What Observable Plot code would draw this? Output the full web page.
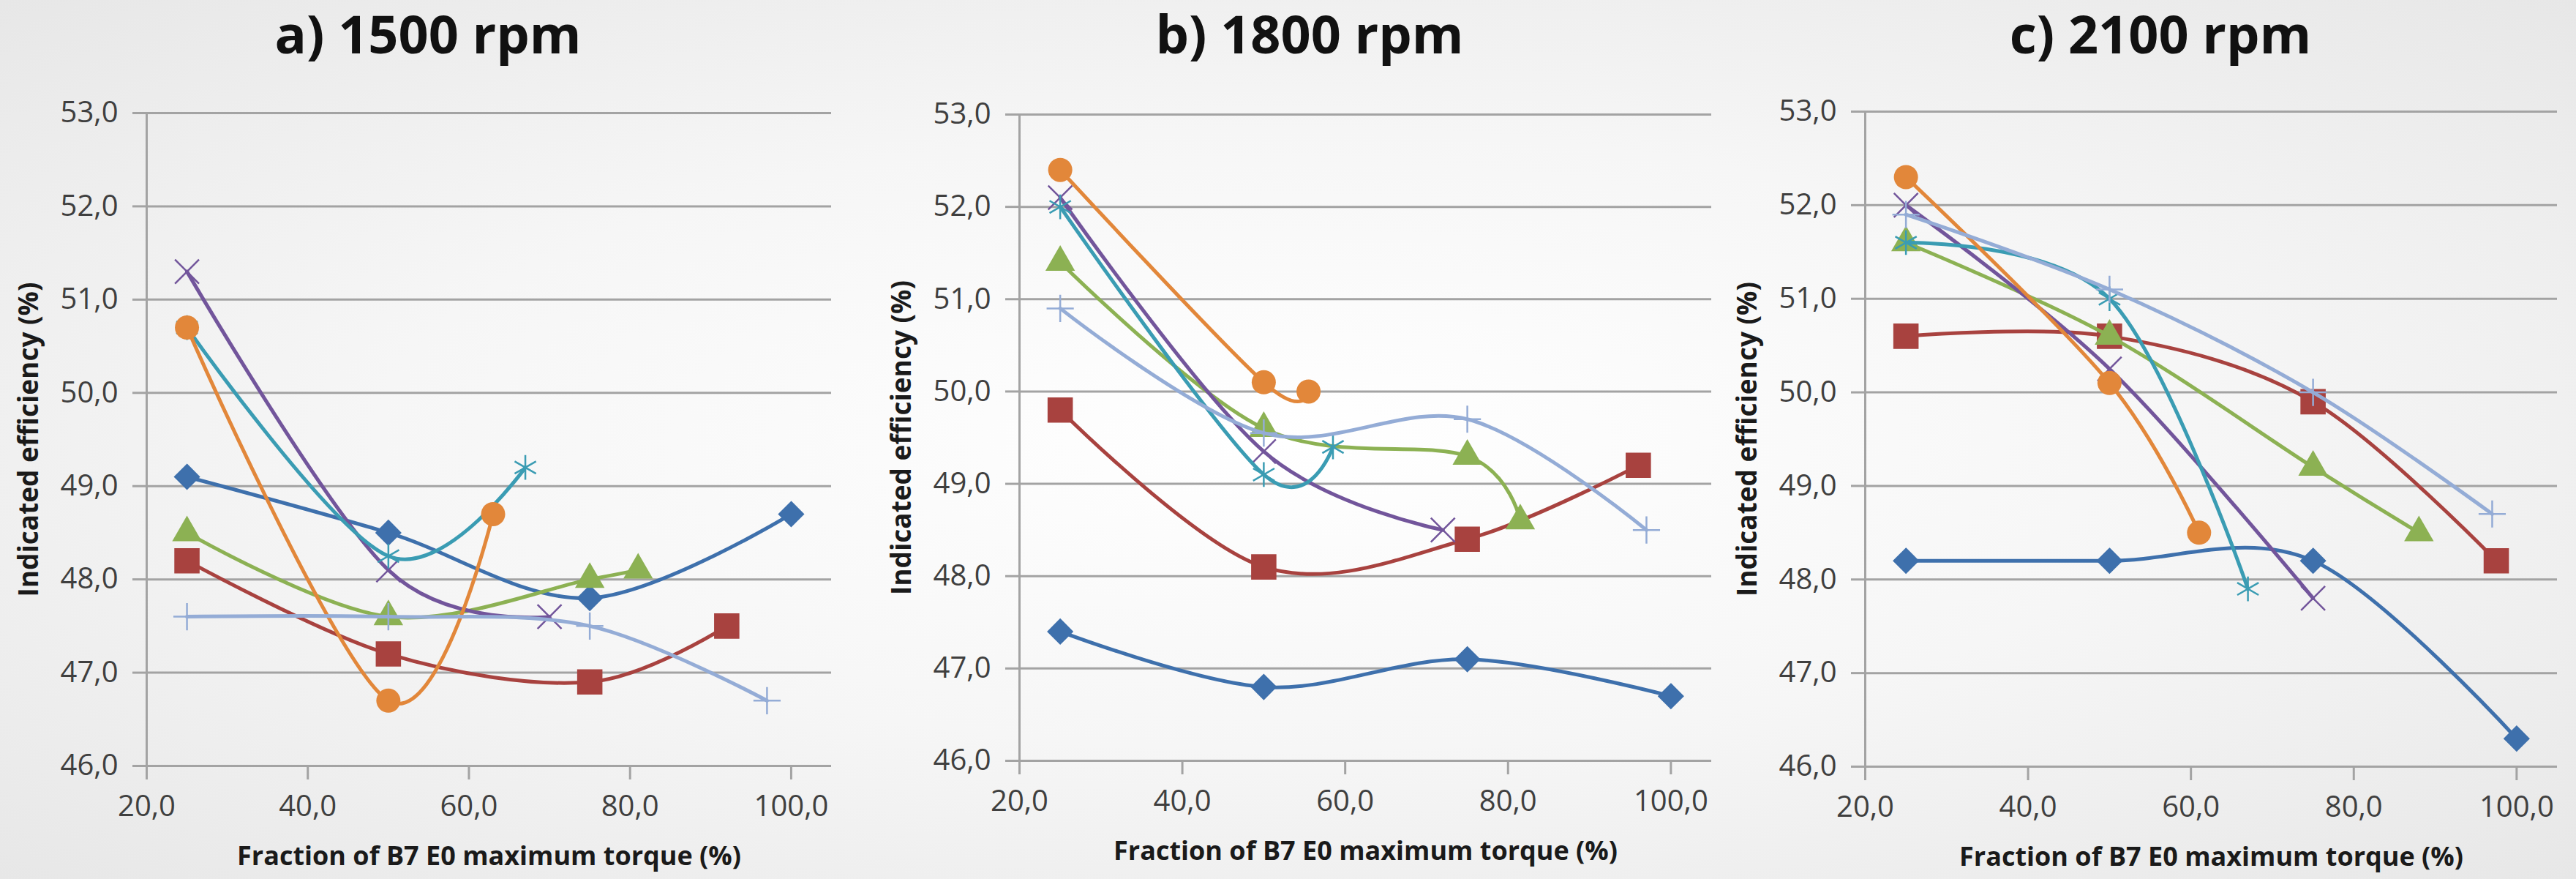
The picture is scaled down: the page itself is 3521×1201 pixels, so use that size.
<!DOCTYPE html>
<html>
<head>
<meta charset="utf-8">
<script src="https://cdn.jsdelivr.net/npm/d3@7"></script>
<script src="https://cdn.jsdelivr.net/npm/@observablehq/plot@0.6"></script>
<style>
  html, body { margin: 0; padding: 0; }
  body {
    width: 3521px; height: 1201px; overflow: hidden; position: relative;
    background: radial-gradient(ellipse at 50% 50%, #ffffff 0%, #f6f6f6 50%, #e7e7e7 100%);
    font-family: "Open Sans", sans-serif;
  }
  .title {
    position: absolute; top: 9px; font-weight: 700; font-size: 72px; line-height: 72px;
    color: #111; transform: translateX(-50%); white-space: nowrap;
  }
  .panel { position: absolute; top: 100px; }
</style>
</head>
<body>
<script>
// ---------- shared axis values ----------
const xTicks = [20, 40, 60, 80, 100];
const yTicks = [46, 47, 48, 49, 50, 51, 52, 53];
const xLabel = "Fraction of B7 E0 maximum torque (%)";
const yLabel = "Indicated efficiency (%)";
const panelTitles = ["a) 1500 rpm", "b) 1800 rpm", "c) 2100 rpm"];

// ---------- series styles (7 fuel blends) ----------
const seriesColors  = ["#3e70ac", "#a8423f", "#8cb153", "#72559b", "#3a9cb3", "#e2873a", "#94acd6"];
const seriesSymbols = ["diamond2", "square", "triangle", "times", "asterisk", "circle", "plus"];

// ---------- a) 1500 rpm ----------
const a1_x = [25, 50, 75, 100], a1_y = [49.1, 48.5, 47.8, 48.7];
const a2_x = [25, 50, 75, 92],  a2_y = [48.2, 47.2, 46.9, 47.5];
const a3_x = [25, 50, 75, 81],  a3_y = [48.5, 47.6, 48.0, 48.1];
const a4_x = [25, 50, 70],      a4_y = [51.3, 48.1, 47.6];
const a5_x = [25, 50, 67],      a5_y = [50.7, 48.25, 49.2];
const a6_x = [25, 50, 63],      a6_y = [50.7, 46.7, 48.7];
const a7_x = [25, 50, 75, 97],  a7_y = [47.6, 47.6, 47.5, 46.7];

// ---------- b) 1800 rpm ----------
const b1_x = [25, 50, 75, 100], b1_y = [47.4, 46.8, 47.1, 46.7];
const b2_x = [25, 50, 75, 96],  b2_y = [49.8, 48.1, 48.4, 49.2];
const b3_x = [25, 50, 75, 81.5], b3_y = [51.4, 49.6, 49.3, 48.6];
const b4_x = [25, 50, 72],      b4_y = [52.1, 49.35, 48.5];
const b5_x = [25, 50, 58.5],    b5_y = [52.0, 49.1, 49.4];
const b6_x = [25, 50, 55.5],    b6_y = [52.4, 50.1, 50.0];
const b7_x = [25, 50, 75, 97],  b7_y = [50.9, 49.55, 49.7, 48.5];

// ---------- c) 2100 rpm ----------
const c1_x = [25, 50, 75, 100], c1_y = [48.2, 48.2, 48.2, 46.3];
const c2_x = [25, 50, 75, 97.5], c2_y = [50.6, 50.6, 49.9, 48.2];
const c3_x = [25, 50, 75, 88],  c3_y = [51.6, 50.6, 49.2, 48.5];
const c4_x = [25, 50, 75],      c4_y = [52.0, 50.25, 47.8];
const c5_x = [25, 50, 67],      c5_y = [51.6, 51.0, 47.9];
const c6_x = [25, 50, 61],      c6_y = [52.3, 50.1, 48.5];
const c7_x = [25, 50, 75, 97],  c7_y = [51.9, 51.1, 50.0, 48.7];

const panelSeries = [
  [[a1_x, a1_y], [a2_x, a2_y], [a3_x, a3_y], [a4_x, a4_y], [a5_x, a5_y], [a6_x, a6_y], [a7_x, a7_y]],
  [[b1_x, b1_y], [b2_x, b2_y], [b3_x, b3_y], [b4_x, b4_y], [b5_x, b5_y], [b6_x, b6_y], [b7_x, b7_y]],
  [[c1_x, c1_y], [c2_x, c2_y], [c3_x, c3_y], [c4_x, c4_y], [c5_x, c5_y], [c6_x, c6_y], [c7_x, c7_y]]
];

// layout per panel (page px)
const layouts = [
  {left: 0,    width: 1166, plotW: 936, mt: 54, mb: 154, titleX: 585},
  {left: 1193, width: 1176, plotW: 946, mt: 56, mb: 161, titleX: 1790},
  {left: 2349, width: 1172, plotW: 946, mt: 52, mb: 153, titleX: 2953}
];

const gridColor = "#a3a3a3";
const fmt = d => d.toFixed(1).replace(".", ",");

function symbolStyle(i, color) {
  const s = seriesSymbols[i];
  const filled = ["diamond2", "square", "triangle", "circle"].includes(s);
  const r = {diamond2: 15, square: 19.5, triangle: 15, circle: 16.5, times: 15, asterisk: 16, plus: 12}[s];
  return filled
    ? {symbol: s, r, fill: color, stroke: color, strokeWidth: s === "diamond2" ? 2 : 0}
    : {symbol: s, r, fill: "none", stroke: color, strokeWidth: 2.5};
}

panelSeries.forEach((series, p) => {
  const L = layouts[p];
  const t = document.createElement("div");
  t.className = "title";
  t.style.left = L.titleX + "px";
  t.textContent = panelTitles[p];
  document.body.appendChild(t);

  const marks = [
    Plot.ruleY(yTicks, {x1: 20, x2: 105, stroke: gridColor, strokeWidth: 3}),
    Plot.ruleX([20], {y1: 46, y2: 53, stroke: gridColor, strokeWidth: 3}),
    Plot.axisY(yTicks, {anchor: "left", tickSize: 19, tickPadding: 20, tickFormat: fmt,
      stroke: gridColor, strokeWidth: 3, color: "#3f3f3f", fontSize: 40, label: null}),
    Plot.axisX(xTicks, {anchor: "bottom", tickSize: 19, tickPadding: 21, tickFormat: fmt,
      stroke: gridColor, strokeWidth: 3, color: "#3f3f3f", fontSize: 40, label: null})
  ];
  series.forEach(([xs, ys], i) => {
    const rows = xs.map((x, k) => ({x, y: ys[k]}));
    const color = seriesColors[i];
    marks.push(Plot.line(rows, {x: "x", y: "y", stroke: color, strokeWidth: 5, curve: "cardinal", tension: 0}));
    marks.push(Plot.dot(rows, {x: "x", y: "y", ...symbolStyle(i, color)}));
  });
  marks.push(Plot.text([yLabel], {frameAnchor: "left", textAnchor: "middle", lineAnchor: "middle", rotate: -90, dx: -160,
    fontSize: 37, fontWeight: "bold", fill: "#1a1a1a"}));
  marks.push(Plot.text([xLabel], {frameAnchor: "bottom", textAnchor: "middle", lineAnchor: "bottom", dy: 135,
    fontSize: 36, fontWeight: "bold", fill: "#1a1a1a"}));

  const chart = Plot.plot({
    width: L.width,
    height: 1100,
    marginLeft: 200,
    marginRight: L.width - 200 - L.plotW,
    marginTop: L.mt,
    marginBottom: L.mb,
    x: {domain: [20, 105], axis: null},
    y: {domain: [46, 53], axis: null},
    style: {background: "transparent", fontFamily: "Open Sans", overflow: "visible"},
    marks
  });
  const wrap = document.createElement("div");
  wrap.className = "panel";
  wrap.style.left = L.left + "px";
  wrap.appendChild(chart);
  document.body.appendChild(wrap);
});
</script>
</body>
</html>
